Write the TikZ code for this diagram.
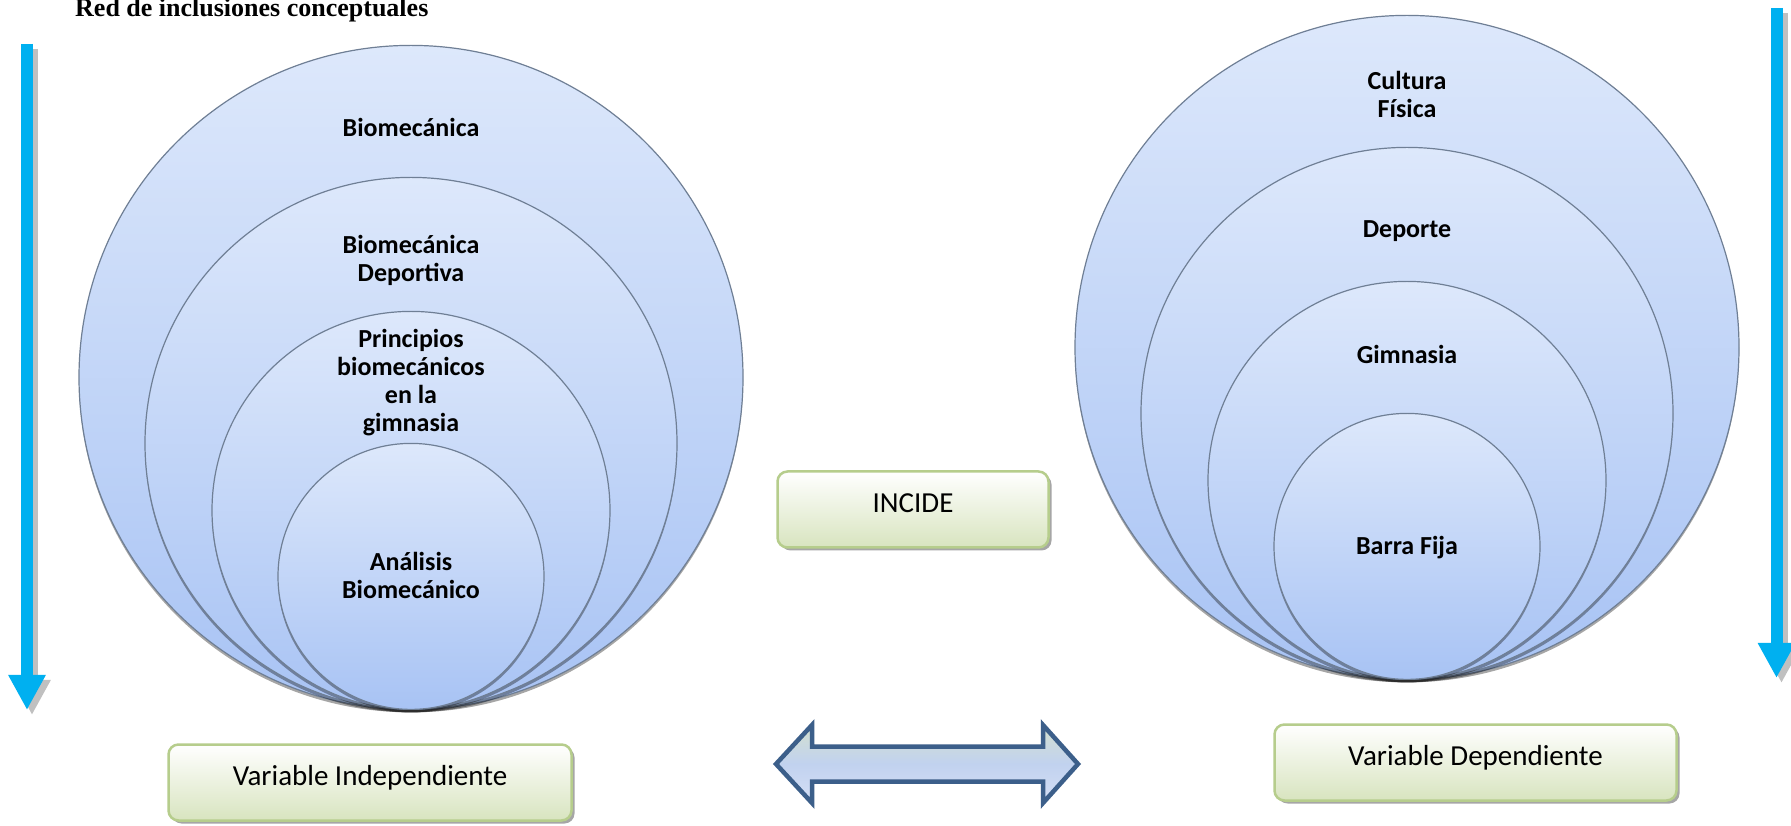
\documentclass[tikz,border=0pt]{standalone}
\usepackage{fontspec}
\setmainfont{Carlito}
\newfontfamily\titlefont{Liberation Serif}
\usetikzlibrary{positioning,arrows.meta,calc,shadows}

\definecolor{ringtop}{HTML}{DDE8FB}
\definecolor{ringbot}{HTML}{A8C3F4}
\definecolor{ringline}{HTML}{6F7F95}
\definecolor{boxline}{HTML}{B6CD8C}
\definecolor{boxbot}{HTML}{D8E4BF}
\definecolor{arrowblue}{HTML}{00B0F0}
\definecolor{shadowgray}{HTML}{C0C0C0}
\definecolor{relline}{HTML}{3C5F8A}
\definecolor{reltop}{HTML}{D3E0CF}
\definecolor{relmid}{HTML}{C1D2EF}
\definecolor{relbot}{HTML}{D5DFF5}

\begin{document}
\begin{tikzpicture}[
  x=1pt, y=1pt,
  ring/.style={
    circle, anchor=south, inner sep=0pt,
    draw=ringline, line width=1.2pt,
    top color=ringtop, bottom color=ringbot,
    drop shadow={shadow xshift=0pt, shadow yshift=-3pt, fill=black, opacity=.35}
  },
  ringlabel/.style={font=\bfseries\fontsize{26}{28}\selectfont, align=center},
  % boxes with the variable names
  varbox/.style={
    draw=boxline, line width=2.5pt, rounded corners=10pt,
    top color=white, bottom color=boxbot,
    minimum height=76pt, text height=20pt, text depth=14pt,
    font=\fontsize{29}{34}\selectfont,
    drop shadow={shadow xshift=3pt, shadow yshift=-3pt, fill=black!35, opacity=1}
  },
  blockarrow/.style={line width=12pt, -{Triangle[width=35pt,length=35pt]}},
  arrowshade/.style={blockarrow, draw=shadowgray, transform canvas={xshift=5pt, yshift=-5pt}},
  relarrow/.style={draw=relline, line width=4.5pt, line join=miter,
    top color=reltop, bottom color=relbot, middle color=relmid},
  title/.style={font=\titlefont\bfseries\fontsize{26}{30}\selectfont, anchor=base west, inner sep=0pt}
]
\fill[white] (0,0) rectangle (1791,825);
\useasboundingbox (0,0) rectangle (1791,825);

% ---------- Title ----------
\node[title] (title) at (75,808) {Red de inclusiones conceptuales};

% ---------- Side arrows ----------
\coordinate (ltop) at (27,781);
\coordinate (lbot) at (27,115);
\coordinate (rtop) at (1776.5,817);
\coordinate (rbot) at (1776.5,147);
\draw[arrowshade] (ltop) -- (lbot);
\draw[blockarrow, draw=arrowblue] (ltop) -- (lbot);
\draw[arrowshade] (rtop) -- (rbot);
\draw[blockarrow, draw=arrowblue] (rtop) -- (rbot);

% ---------- Left rings ----------
\node[ring, minimum size=664pt] (l1) at (411,115) {};
\node[ring, minimum size=532pt] (l2) at (l1.south) {};
\node[ring, minimum size=398pt] (l3) at (l1.south) {};
\node[ring, minimum size=266pt] (l4) at (l1.south) {};

\node[ringlabel] (t1) at ($(l1.north)+(0,-83)$) {Biomecánica};
\node[ringlabel] (t2) at ($(l2.north)+(0,-83.5)$) {Biomecánica\\Deportiva};
\node[ringlabel] (t3) at ($(l3.north)+(0,-72)$) {Principios\\biomecánicos\\en la\\gimnasia};
\node[ringlabel] (t4) at ($(l4.center)+(0,1)$) {Análisis\\Biomecánico};

% ---------- Right rings ----------
\node[ring, minimum size=664pt] (r1) at (1407,145) {};
\node[ring, minimum size=532pt] (r2) at (r1.south) {};
\node[ring, minimum size=398pt] (r3) at (r1.south) {};
\node[ring, minimum size=266pt] (r4) at (r1.south) {};

\node[ringlabel] (u1) at ($(r1.north)+(0,-80)$) {Cultura\\Física};
\node[ringlabel] (u2) at ($(r2.north)+(0,-84)$) {Deporte};
\node[ringlabel] (u3) at ($(r3.north)+(0,-74)$) {Gimnasia};
\node[ringlabel] (u4) at ($(r4.center)+(0,-1)$) {Barra Fija};

% ---------- Boxes ----------
\node[varbox, minimum width=271pt] (incide) at (913,315.5) {INCIDE};
\node[varbox, minimum width=403pt] (vind) at (370,42.5) {Variable Independiente};
\node[varbox, minimum width=402pt] (vdep) at (1475.5,62.5) {Variable Dependiente};

% ---------- Two-way arrow ----------
\path[relarrow] (776,61) -- (812,100) -- (812,78.5) -- (1043,78.5) -- (1043,100)
  -- (1078,61) -- (1043,22) -- (1043,43.5) -- (812,43.5) -- (812,22) -- cycle;

\end{tikzpicture}
\end{document}
